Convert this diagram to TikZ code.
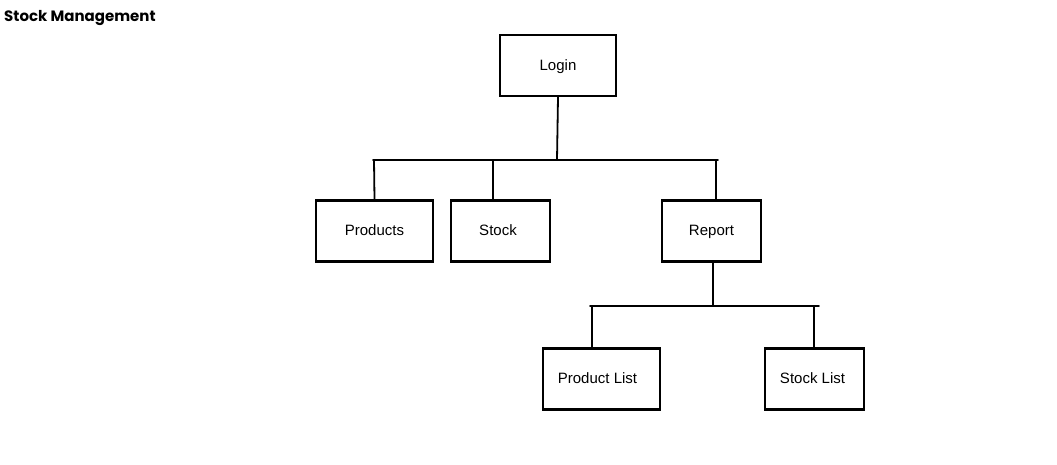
\documentclass[tikz,border=0pt]{standalone}
\usepackage{fontspec}
\setmainfont{Liberation Sans}
\newfontfamily\titlefont{Poppins}
\begin{document}
\begin{tikzpicture}[x=1pt,y=-1pt,
  box/.style={draw=black,line width=2.2pt,minimum width=#1,minimum height=61pt,inner sep=0pt,text height=10pt,text depth=1pt,font=\fontsize{15}{18}\selectfont,text=black},
  conn/.style={draw=black,line width=1.8pt,line cap=round},
  title/.style={font=\titlefont\bfseries\fontsize{15}{18}\selectfont,anchor=base west,inner sep=0pt}]
\useasboundingbox (0,0) rectangle (1057,464);
\node[title] (ttl) at (4,21) {Stock Management};
\node[box=116pt] (login) at (558,65.5) {Login};
\node[box=117pt] (products) at (374.5,231) {Products};
\node[box=99pt] (stock) at (500.5,231) {\hspace*{-5pt}Stock};
\node[box=99pt] (report) at (711.5,231) {Report};
\node[box=117pt] (plist) at (601.5,379) {\hspace*{-8pt}Product List};
\node[box=99pt] (slist) at (814.5,379) {\hspace*{-4pt}Stock List};
% bus 1
\coordinate (b1l) at (373,160);
\coordinate (b1r) at (718,160);
\coordinate (b1s) at (493,160);
\coordinate (b1c) at (557,160);
\draw[conn] (b1l) -- (b1r);
\draw[conn] (login.south -| b1c) ++(1,0) -- (b1c);
\draw[conn] (b1l) ++(1,0) -- (products.north);
\draw[conn] (b1s) -- (b1s |- stock.north);
\draw[conn] (b1r) ++(-2,0) coordinate (b1rd) -- (b1rd |- report.north);
% bus 2
\coordinate (b2l) at (590,306);
\coordinate (b2r) at (819,306);
\coordinate (b2c) at (713,306);
\draw[conn] (b2l) -- (b2r);
\draw[conn] (report.south -| b2c) -- (b2c);
\draw[conn] (b2l) ++(2,0) coordinate (b2ld) -- (b2ld |- plist.north);
\draw[conn] (b2r) ++(-5,0) coordinate (b2rd) -- (b2rd |- slist.north);
\end{tikzpicture}
\end{document}
